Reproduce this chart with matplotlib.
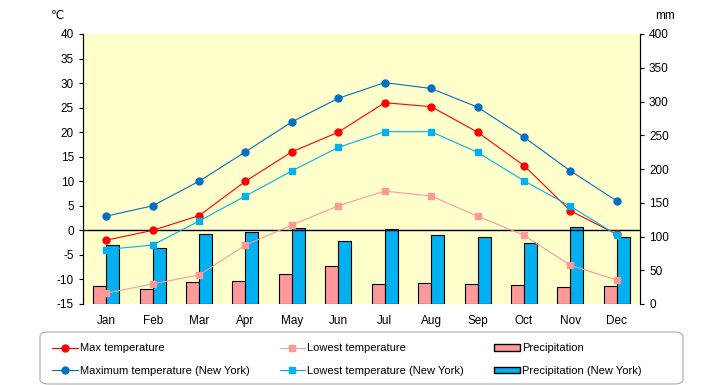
import matplotlib
matplotlib.use('Agg')
import matplotlib.pyplot as plt
from matplotlib.lines import Line2D
from matplotlib.patches import Patch, FancyBboxPatch
import numpy as np

# ---- data ----
months = ['Jan', 'Feb', 'Mar', 'Apr', 'May', 'Jun',
          'Jul', 'Aug', 'Sep', 'Oct', 'Nov', 'Dec']
max_temp = [-2, 0, 3, 10, 16, 20, 26, 25.2, 20, 13.2, 4, -0.8]
low_temp = [-12.8, -10.9, -9.1, -3, 1.1, 5, 8, 7, 2.9, -1, -7.1, -10.1]
precip = [27, 22, 32, 34, 44, 56, 29, 31, 29, 28, 25, 27]
max_ny = [2.9, 5, 10, 16, 22.1, 26.9, 30.1, 28.9, 25.1, 19, 12.1, 6]
low_ny = [-3.9, -3, 1.9, 7, 12.1, 16.9, 20.1, 20.1, 15.9, 10.1, 4.9, -0.9]
precip_ny = [87, 82.5, 103, 106, 112, 93, 110.6, 102, 99, 90, 113.6, 99]

# ---- colours ----
C_MAX = '#ff0000'
C_LOW = '#ff9999'
C_MAX_NY = '#0070c0'
C_LOW_NY = '#00b0f0'
BG = '#ffffcc'

plt.rcParams['font.family'] = ['Liberation Sans', 'DejaVu Sans']
plt.rcParams['axes.unicode_minus'] = False
fig = plt.figure(figsize=(7.2, 3.85), dpi=100)
ax2 = fig.add_axes([83 / 720, 1 - 304 / 385, 557 / 720, 270 / 385])
ax = ax2.twinx()
# temperature axis on the left, precipitation on the right
ax.yaxis.tick_left()
ax2.yaxis.tick_right()
ax.set_zorder(2)
ax.patch.set_visible(False)
ax2.set_facecolor(BG)

x = np.arange(len(months))
w = 0.28
ax2.bar(x - w / 2, precip, width=w, color=C_LOW, edgecolor='black', lw=0.8)
ax2.bar(x + w / 2, precip_ny, width=w, color=C_LOW_NY, edgecolor='black', lw=0.8)
ax2.set_ylim(0, 400)
ax2.set_yticks(range(0, 401, 50))

ax.axhline(0, color='black', lw=1)
ax.plot(x, max_temp, color=C_MAX, lw=0.8, marker='o', ms=5)
ax.plot(x, low_temp, color=C_LOW, lw=0.8, marker='s', ms=5)
ax.plot(x, max_ny, color=C_MAX_NY, lw=0.8, marker='o', ms=5)
ax.plot(x, low_ny, color=C_LOW_NY, lw=0.8, marker='s', ms=5)
ax.set_ylim(-15, 40)
ax.set_yticks(range(-15, 41, 5))
ax.set_xlim(-0.5, len(months) - 0.5)

ax2.set_xticks(x)
ax2.set_xticklabels(months)
for a in (ax, ax2):
    a.spines['top'].set_visible(False)
    a.spines['bottom'].set_visible(False)
    a.tick_params(labelsize=8.5, length=3, width=0.8)
ax2.tick_params(axis='x', length=0, pad=8)

fig.text(57 / 720, 1 - 16 / 385, '℃', fontsize=8.5, ha='center', va='center')
fig.text(665 / 720, 1 - 16 / 385, 'mm', fontsize=8.5, ha='center', va='center')

# ---- legend (ncol fills column-wise) ----
handles = [
    Line2D([], [], color=C_MAX, lw=0.8, marker='o', ms=5),
    Line2D([], [], color=C_MAX_NY, lw=0.8, marker='o', ms=5),
    Line2D([], [], color=C_LOW, lw=0.8, marker='s', ms=5),
    Line2D([], [], color=C_LOW_NY, lw=0.8, marker='s', ms=5),
    Patch(facecolor=C_LOW, edgecolor='black'),
    Patch(facecolor=C_LOW_NY, edgecolor='black'),
]
labels = ['Max temperature', 'Maximum temperature (New York)',
          'Lowest temperature', 'Lowest temperature (New York)',
          'Precipitation', 'Precipitation (New York)']
fig.legend(handles, labels, ncol=3, loc='center left',
           bbox_to_anchor=(52 / 720, 1 - 359.5 / 385),
           fontsize=8, frameon=False, handlelength=2.3, handleheight=0.5,
           handletextpad=0.2, borderaxespad=0, borderpad=0,
           labelspacing=1.1, columnspacing=2.7)

frame = FancyBboxPatch((40 / 720, 1 - 384 / 385), 643 / 720, 52 / 385,
                       boxstyle='round,pad=0,rounding_size=0.012',
                       transform=fig.transFigure, facecolor='none',
                       edgecolor='#aaaaaa', lw=0.8)
fig.add_artist(frame)

fig.savefig('out.png', dpi=100)
